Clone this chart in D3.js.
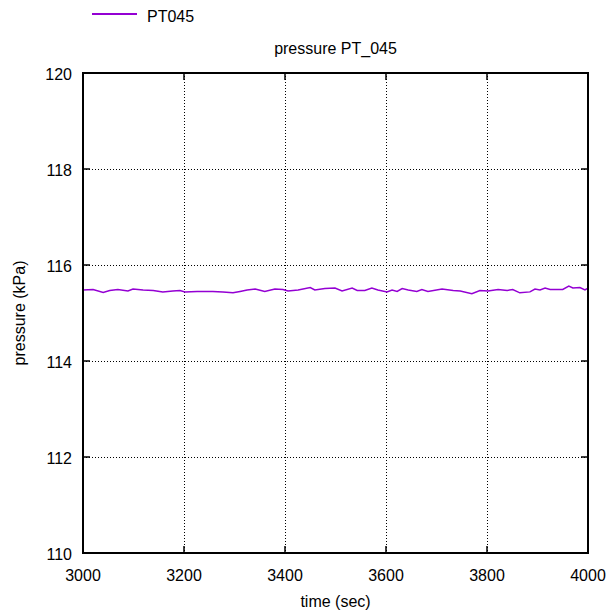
<!DOCTYPE html>
<html>
<head>
<meta charset="utf-8">
<script src="https://cdn.jsdelivr.net/npm/d3@7"></script>
<style>
  body { margin: 0; background: #fff; }
  text { font-family: "Liberation Sans", Arial, sans-serif; font-size: 16px; }
</style>
</head>
<body>
<div id="chart"></div>
<script>
// chart data
const times = [3000, 3020, 3040, 3053, 3069, 3089, 3099, 3119, 3139, 3158, 3178, 3192, 3202, 3226, 3257, 3277, 3297, 3311, 3325,
  3341, 3360, 3380, 3396, 3406, 3426, 3450, 3459, 3479, 3499, 3513, 3533, 3543, 3558, 3572, 3584, 3602, 3612, 3622, 3632, 3644,
  3661, 3671, 3683, 3711, 3733, 3747, 3770, 3786, 3802, 3822, 3840, 3851, 3865, 3885, 3895, 3905, 3915, 3925, 3950, 3962, 3970,
  3984, 3994, 4000];
const pressure = [115.48, 115.49, 115.43, 115.47, 115.49, 115.46, 115.50, 115.48, 115.47, 115.44, 115.46, 115.47, 115.44, 115.45,
  115.45, 115.44, 115.42, 115.45, 115.48, 115.50, 115.45, 115.50, 115.49, 115.46, 115.48, 115.53, 115.48, 115.51, 115.52, 115.46,
  115.52, 115.47, 115.47, 115.52, 115.48, 115.44, 115.48, 115.45, 115.51, 115.48, 115.45, 115.49, 115.45, 115.50, 115.47, 115.46,
  115.40, 115.47, 115.46, 115.49, 115.47, 115.49, 115.42, 115.44, 115.50, 115.48, 115.52, 115.49, 115.49, 115.56, 115.52, 115.53,
  115.48, 115.52];
const xTicks = [3000, 3200, 3400, 3600, 3800, 4000];
const yTicks = [110, 112, 114, 116, 118, 120];
const seriesName = "PT045";
const title = "pressure PT_045";

const width = 611, height = 614;
// plot box edges
const pLeft = 83, pRight = 588, pTop = 73, pBottom = 553;
const lineColor = "#9400d3";

const svg = d3.select("#chart").append("svg")
    .attr("width", width)
    .attr("height", height);

const x = d3.scaleLinear().domain([3000, 4000]).range([pLeft, pRight]);
const y = d3.scaleLinear().domain([110, 120]).range([pBottom, pTop]);

// dotted grid
const grid = svg.append("g")
    .attr("stroke", "#000")
    .attr("stroke-width", 1)
    .attr("stroke-dasharray", "1,2");
grid.selectAll(".gx")
    .data(xTicks.slice(1, -1))
    .enter().append("line")
    .attr("x1", d => x(d) + 0.5).attr("x2", d => x(d) + 0.5)
    .attr("y1", pTop).attr("y2", pBottom);
grid.selectAll(".gy")
    .data(yTicks.slice(1, -1))
    .enter().append("line")
    .attr("y1", d => y(d) + 0.5).attr("y2", d => y(d) + 0.5)
    .attr("x1", pLeft).attr("x2", pRight);

// inward ticks on all four sides
const tickLen = 7;
const ticks = svg.append("g").attr("stroke", "#000").attr("stroke-width", 1.5);
xTicks.forEach(t => {
    ticks.append("line").attr("x1", x(t)).attr("x2", x(t)).attr("y1", pBottom).attr("y2", pBottom - tickLen);
    ticks.append("line").attr("x1", x(t)).attr("x2", x(t)).attr("y1", pTop).attr("y2", pTop + tickLen);
});
yTicks.forEach(t => {
    ticks.append("line").attr("y1", y(t)).attr("y2", y(t)).attr("x1", pLeft).attr("x2", pLeft + tickLen);
    ticks.append("line").attr("y1", y(t)).attr("y2", y(t)).attr("x1", pRight).attr("x2", pRight - tickLen);
});

// tick labels
svg.append("g").selectAll("text")
    .data(xTicks)
    .enter().append("text")
    .attr("x", d => x(d))
    .attr("y", pBottom + 28)
    .attr("text-anchor", "middle")
    .text(d => d);
svg.append("g").selectAll("text")
    .data(yTicks)
    .enter().append("text")
    .attr("x", pLeft - 11)
    .attr("y", d => y(d) + 6.5)
    .attr("text-anchor", "end")
    .text(d => d);

// data line
const line = d3.line()
    .x((d, i) => x(times[i]))
    .y(d => y(d));
svg.append("path")
    .datum(pressure)
    .attr("d", line)
    .attr("fill", "none")
    .attr("stroke", lineColor)
    .attr("stroke-width", 1.5);

// frame
svg.append("rect")
    .attr("x", pLeft).attr("y", pTop)
    .attr("width", pRight - pLeft).attr("height", pBottom - pTop)
    .attr("fill", "none")
    .attr("stroke", "#000")
    .attr("stroke-width", 2);

// title and axis labels
svg.append("text")
    .attr("x", (pLeft + pRight) / 2)
    .attr("y", 54)
    .attr("text-anchor", "middle")
    .text(title);
svg.append("text")
    .attr("x", (pLeft + pRight) / 2)
    .attr("y", 607)
    .attr("text-anchor", "middle")
    .text("time (sec)");
svg.append("text")
    .attr("transform", `translate(25, ${(pTop + pBottom) / 2}) rotate(-90)`)
    .attr("text-anchor", "middle")
    .text("pressure (kPa)");

// legend
svg.append("line")
    .attr("x1", 92).attr("x2", 137)
    .attr("y1", 14).attr("y2", 14)
    .attr("stroke", lineColor)
    .attr("stroke-width", 2);
svg.append("text")
    .attr("x", 147)
    .attr("y", 22)
    .text(seriesName);
</script>
</body>
</html>
